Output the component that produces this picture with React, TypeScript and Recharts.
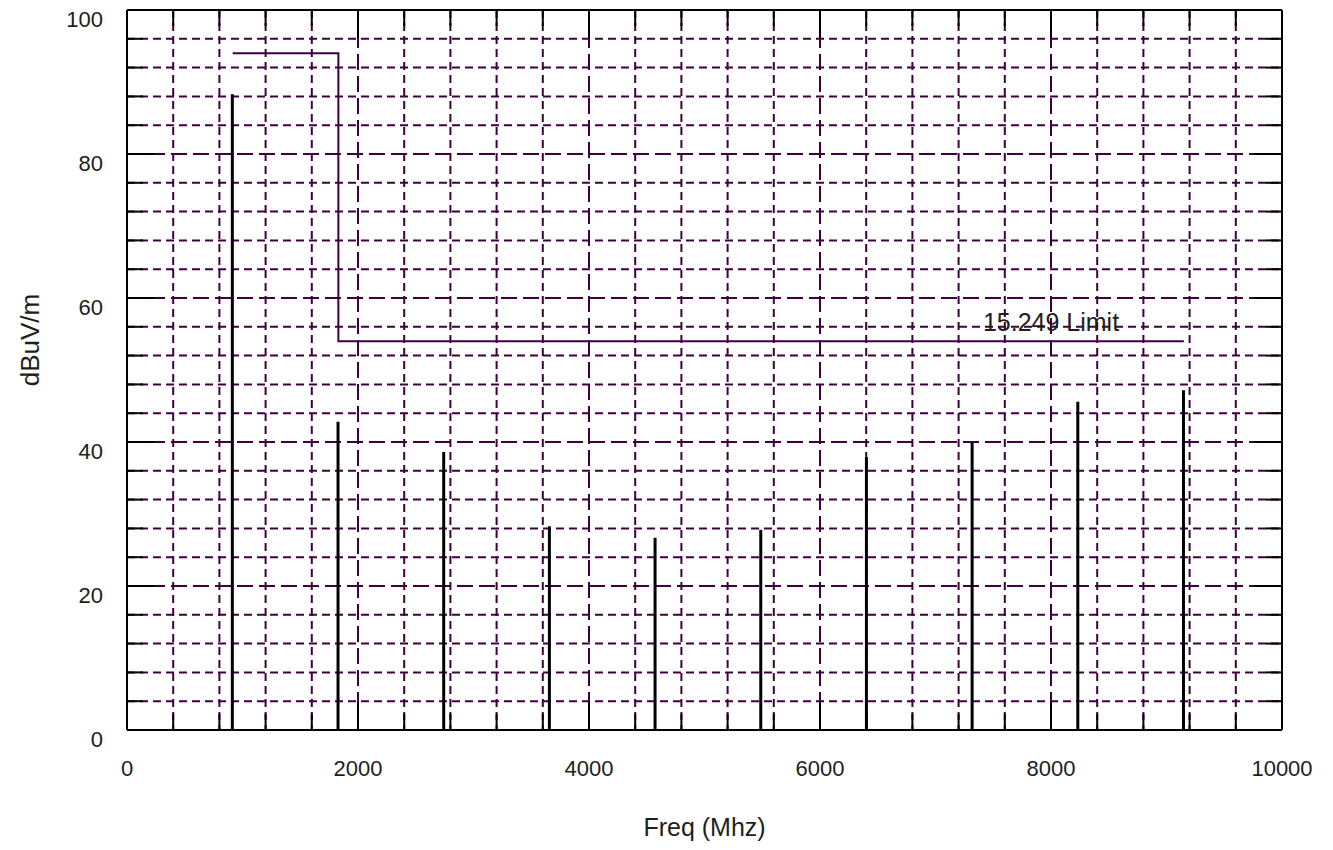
import { ComposedChart, Bar, Line, XAxis, YAxis, CartesianGrid, ReferenceDot } from "recharts";

// harmonics of the 915 MHz carrier
const FREQS = [915, 1830, 2745, 3660, 4575, 5490, 6405, 7320, 8235, 9150];
const LEVELS = [88.3, 42.8, 38.6, 28.3, 26.7, 27.8, 37.9, 40.0, 45.6, 47.2];

// 15.249 limit line (dBuV/m)
const LIMIT_FREQS = [915, 1830, 1830, 9150];
const LIMIT_LEVELS = [94, 94, 54, 54];
const LIMIT_LABEL = "15.249 Limit";

const X_TICKS = [0, 400, 800, 1200, 1600, 2000, 2400, 2800, 3200, 3600, 4000, 4400, 4800, 5200, 5600, 6000, 6400, 6800, 7200, 7600, 8000, 8400, 8800, 9200, 9600, 10000];
const X_LABELS = [0, 2000, 4000, 6000, 8000, 10000];
const Y_TICKS = [0, 4, 8, 12, 16, 20, 24, 28, 32, 36, 40, 44, 48, 52, 56, 60, 64, 68, 72, 76, 80, 84, 88, 92, 96, 100];
const Y_LABELS = [0, 20, 40, 60, 80, 100];

const spikes = FREQS.map((f, i) => ({ freq: f, level: LEVELS[i] }));
const limitData = LIMIT_FREQS.map((f, i) => ({ freq: f, limit: LIMIT_LEVELS[i] }));

const xMinor = X_TICKS.filter((v) => v > 0 && v < 10000 && !X_LABELS.includes(v));
const xMajor = X_LABELS.filter((v) => v > 0 && v < 10000);
const yMinor = Y_TICKS.filter((v) => v > 0 && v < 100 && !Y_LABELS.includes(v));
const yMajor = Y_LABELS.filter((v) => v > 0 && v < 100);

const GRID = "#3f003f";
const INK = "#1e1e1e";
const FONT = "'Liberation Sans', Arial, sans-serif";

const len = (major: boolean) => (major ? 28 : 16);

const BottomTick = (props: any) => {
  const { x, y, payload } = props;
  const major = X_LABELS.includes(payload.value);
  return (
    <g>
      <line x1={x} y1={y} x2={x} y2={y - len(major)} stroke="#000" strokeWidth={2} />
      {major && (
        <text x={x} y={y + 46} textAnchor="middle" fontSize={22} fontFamily={FONT} fill={INK}>
          {payload.value}
        </text>
      )}
    </g>
  );
};

const TopTick = (props: any) => {
  const { x, y, payload } = props;
  const major = X_LABELS.includes(payload.value);
  return <line x1={x} y1={y} x2={x} y2={y + len(major)} stroke="#000" strokeWidth={2} />;
};

const LeftTick = (props: any) => {
  const { x, y, payload } = props;
  const major = Y_LABELS.includes(payload.value);
  return (
    <g>
      <line x1={x} y1={y} x2={x + len(major)} y2={y} stroke="#000" strokeWidth={2} />
      {major && (
        <text x={x - 24} y={y + 17} textAnchor="end" fontSize={22} fontFamily={FONT} fill={INK}>
          {payload.value}
        </text>
      )}
    </g>
  );
};

const RightTick = (props: any) => {
  const { x, y, payload } = props;
  const major = Y_LABELS.includes(payload.value);
  return <line x1={x} y1={y} x2={x - len(major)} y2={y} stroke="#000" strokeWidth={2} />;
};

const App = () => {
  return (
    <ComposedChart
      width={1325}
      height={842}
      data={spikes}
      margin={{ top: 1, right: 50, left: 0, bottom: 20 }}
    >
      <CartesianGrid
        stroke={GRID}
        strokeWidth={2}
        strokeDasharray="8 5"
        horizontalValues={yMinor}
        verticalValues={xMinor}
      />
      <CartesianGrid
        stroke={GRID}
        strokeWidth={2}
        strokeDasharray="16 6"
        horizontalValues={yMajor}
        verticalValues={xMajor}
      />
      <XAxis
        dataKey="freq"
        type="number"
        domain={[0, 10000]}
        ticks={X_TICKS}
        interval={0}
        height={100}
        tickSize={0}
        tickMargin={0}
        tickLine={false}
        tick={BottomTick}
        axisLine={{ stroke: "#000", strokeWidth: 2 }}
        allowDataOverflow
        label={{
          content: ({ viewBox }: any) => (
            <text
              x={viewBox.x + viewBox.width / 2}
              y={viewBox.y + 106}
              textAnchor="middle"
              fontSize={25}
              fontFamily={FONT}
              fill={INK}
            >
              Freq (Mhz)
            </text>
          ),
        }}
      />
      <XAxis
        xAxisId="top"
        orientation="top"
        dataKey="freq"
        type="number"
        domain={[0, 10000]}
        ticks={X_TICKS}
        interval={0}
        height={1}
        tickSize={0}
        tickMargin={0}
        tickLine={false}
        tick={TopTick}
        axisLine={{ stroke: "#000", strokeWidth: 2 }}
        allowDataOverflow
      />
      <YAxis
        type="number"
        domain={[0, 100]}
        ticks={Y_TICKS}
        interval={0}
        width={119}
        tickSize={0}
        tickMargin={0}
        tickLine={false}
        tick={LeftTick}
        axisLine={{ stroke: "#000", strokeWidth: 2 }}
        allowDataOverflow
        label={{
          content: ({ viewBox }: any) => {
            const cx = viewBox.x + 31;
            const cy = viewBox.y + viewBox.height / 2 - 30;
            return (
              <text
                x={cx}
                y={cy}
                transform={`rotate(-90 ${cx} ${cy})`}
                textAnchor="middle"
                fontSize={26}
                fontFamily={FONT}
                fill={INK}
              >
                dBuV/m
              </text>
            );
          },
        }}
      />
      <YAxis
        yAxisId="right"
        orientation="right"
        type="number"
        domain={[0, 100]}
        ticks={Y_TICKS}
        interval={0}
        width={1}
        tickSize={0}
        tickMargin={0}
        tickLine={false}
        tick={RightTick}
        axisLine={{ stroke: "#000", strokeWidth: 2 }}
        allowDataOverflow
      />
      <Bar dataKey="level" fill="#000" barSize={3} isAnimationActive={false} />
      {/* invisible series so the top and right frame axes get drawn */}
      <Line
        xAxisId="top"
        yAxisId="right"
        dataKey="level"
        stroke="none"
        dot={false}
        activeDot={false}
        legendType="none"
        isAnimationActive={false}
      />
      <Line
        data={limitData}
        dataKey="limit"
        type="linear"
        stroke={GRID}
        strokeWidth={2}
        dot={false}
        activeDot={false}
        isAnimationActive={false}
      />
      <ReferenceDot
        x={8000}
        y={54}
        r={1}
        fill="none"
        stroke="none"
        label={{ value: LIMIT_LABEL, position: "top", offset: 9, fill: INK, fontSize: 25, fontFamily: FONT }}
      />
    </ComposedChart>
  );
};

export default App;
